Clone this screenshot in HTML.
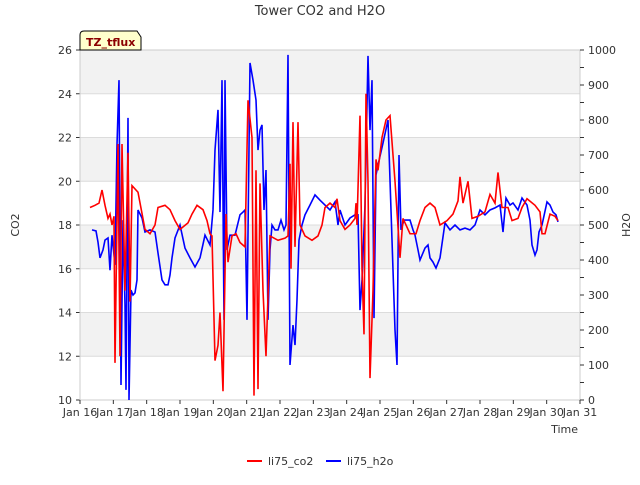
<!DOCTYPE html>
<html><head><meta charset="utf-8"><style>
body{margin:0;background:#fff;font-family:"Liberation Sans","DejaVu Sans",sans-serif}
svg text{font-family:"DejaVu Sans","Liberation Sans",sans-serif;font-size:11px;fill:#333}
</style></head><body>
<svg id="chart" width="640" height="480" xmlns="http://www.w3.org/2000/svg">
<g id="bands"></g><g id="grid"></g><g id="axes"></g><g id="series"></g>
<text x="320" y="15" text-anchor="middle" style="font-size:13px">Tower CO2 and H2O</text>
<text x="19" y="225" text-anchor="middle" transform="rotate(-90 19 225)">CO2</text>
<text x="630" y="225" text-anchor="middle" transform="rotate(-90 630 225)">H2O</text>
<text x="578" y="433" text-anchor="end">Time</text>
<g>
<path d="M80,50 L80,35 Q80,31 84,31 L137,31 L141,37 L141,50 Z" fill="#ffffcc" stroke="#000" stroke-width="1"/>
<text x="86" y="46" style="font-size:11px;font-weight:bold;fill:#8b0000">TZ_tflux</text></g>
<g>
<line x1="247" y1="461" x2="262" y2="461" stroke="#ff0000" stroke-width="2"/>
<text x="268" y="465">li75_co2</text>
<line x1="326" y1="461" x2="341" y2="461" stroke="#0000ff" stroke-width="2"/>
<text x="347" y="465">li75_h2o</text></g>
</svg>
<script>
const xTickLabels=["Jan 16","Jan 17","Jan 18","Jan 19","Jan 20","Jan 21","Jan 22","Jan 23","Jan 24","Jan 25","Jan 26","Jan 27","Jan 28","Jan 29","Jan 30","Jan 31"];
const yTicks=[10,12,14,16,18,20,22,24,26];
const y2Ticks=[0,100,200,300,400,500,600,700,800,900,1000];
const co2Days=[0.30,0.45,0.57,0.66,0.75,0.84,0.90,0.96,1.02,1.05,1.14,1.20,1.26,1.35,1.44,1.50,1.56,1.74,1.95,2.10,2.25,2.34,2.55,2.70,2.85,3.00,3.24,3.36,3.51,3.69,3.81,3.90,3.96,4.05,4.14,4.20,4.29,4.38,4.44,4.56,4.68,4.80,4.95,5.04,5.16,5.22,5.28,5.34,5.40,5.49,5.58,5.70,5.94,6.15,6.24,6.30,6.33,6.39,6.45,6.54,6.60,6.75,6.96,7.14,7.26,7.35,7.50,7.65,7.71,7.80,7.95,8.10,8.25,8.28,8.31,8.40,8.46,8.52,8.58,8.64,8.70,8.79,8.88,8.94,9.06,9.18,9.30,9.45,9.60,9.69,9.90,10.08,10.20,10.35,10.50,10.65,10.80,11.01,11.19,11.34,11.40,11.49,11.64,11.76,11.94,12.15,12.30,12.45,12.54,12.66,12.84,12.96,13.14,13.26,13.41,13.65,13.80,13.86,13.95,14.10,14.25,14.34];
const co2Values=[18.8,18.9,19.0,19.6,18.9,18.3,18.5,18.0,18.4,11.7,21.7,12.0,21.7,15.0,21.3,14.5,19.8,19.5,17.8,17.6,18.0,18.8,18.9,18.7,18.2,17.8,18.1,18.5,18.9,18.7,18.2,17.6,17.5,11.8,12.5,14,10.4,18.5,16.3,17.5,17.6,17.2,17.0,23.7,22.0,10.2,20.5,10.5,19.9,15.0,12.0,17.5,17.3,17.4,17.5,20.8,16.0,22.7,17.0,22.7,18.0,17.5,17.3,17.5,18.0,18.8,19.0,18.8,19.2,18.2,17.8,18.0,18.3,19.0,18.0,23.0,16.0,13.0,24.0,20.0,11.0,15.0,21.0,20.5,22.0,22.8,23.0,20.0,16.5,18.3,17.6,17.6,18.2,18.8,19.0,18.8,18.0,18.2,18.5,19.1,20.2,19.0,20.0,18.3,18.4,18.6,19.4,19.0,20.4,18.8,18.8,18.2,18.3,18.8,19.2,18.9,18.6,17.6,17.6,18.5,18.4,18.2];
const h2oDays=[0.36,0.48,0.54,0.60,0.69,0.75,0.84,0.90,0.96,1.05,1.11,1.17,1.23,1.29,1.35,1.38,1.44,1.47,1.53,1.59,1.65,1.71,1.74,1.86,1.95,2.10,2.25,2.34,2.46,2.55,2.64,2.70,2.76,2.85,3.00,3.15,3.30,3.45,3.60,3.75,3.90,3.99,4.05,4.14,4.20,4.26,4.32,4.35,4.41,4.50,4.65,4.80,4.89,4.95,5.01,5.10,5.19,5.28,5.34,5.40,5.46,5.52,5.58,5.64,5.70,5.76,5.85,5.94,6.03,6.12,6.18,6.24,6.30,6.39,6.45,6.51,6.57,6.66,6.75,6.90,7.05,7.20,7.35,7.50,7.65,7.74,7.80,7.95,8.10,8.25,8.34,8.40,8.46,8.55,8.64,8.70,8.76,8.82,8.88,8.94,9.09,9.24,9.36,9.45,9.51,9.57,9.63,9.72,9.90,9.99,10.05,10.14,10.20,10.35,10.44,10.50,10.59,10.68,10.80,10.95,11.10,11.25,11.40,11.55,11.70,11.85,12.00,12.15,12.30,12.45,12.60,12.69,12.78,12.90,12.99,13.14,13.26,13.41,13.50,13.56,13.65,13.71,13.77,13.86,14.01,14.10,14.19,14.28,14.34];
const h2oValues=[486,483,451,406,429,457,463,371,471,386,729,914,43,514,271,29,806,0,314,300,306,343,543,520,480,486,480,420,343,329,329,357,406,463,500,434,406,380,406,471,443,543,714,829,537,914,229,914,429,471,471,529,537,543,229,963,914,857,714,771,786,543,657,229,429,500,486,486,514,486,500,986,100,214,157,286,457,500,529,557,586,571,557,543,566,500,543,500,520,529,529,257,343,557,983,771,914,234,643,671,734,800,457,200,100,700,486,514,514,486,471,429,400,434,443,406,394,377,406,506,486,500,486,491,486,500,543,529,543,549,557,480,577,557,563,543,577,557,514,443,414,429,480,500,566,557,537,529,509];
const L=80,R=580,T=50,B=400,NS="http://www.w3.org/2000/svg";
const xs=d=>L+(R-L)*d/15, ys=v=>B-(B-T)*(v-10)/16, y2s=v=>B-(B-T)*v/1000;
function mk(tag,attrs,parent){const e=document.createElementNS(NS,tag);for(const k in attrs)e.setAttribute(k,attrs[k]);document.getElementById(parent).appendChild(e);return e;}
[12,16,20,24].forEach(v=>{const r=mk('rect',{x:L,y:ys(v+2),width:R-L,height:ys(v)-ys(v+2),fill:'#f2f2f2'},'bands');

});
yTicks.forEach(v=>{const g=mk('line',{x1:L,x2:R,y1:ys(v),y2:ys(v),stroke:'#dcdcdc','stroke-width':1},'grid');


mk('line',{x1:L-4,x2:L,y1:ys(v),y2:ys(v),stroke:'#333'},'axes');
const t=mk('text',{x:L-8,y:ys(v)+4,'text-anchor':'end'},'axes');t.textContent=v;

});
mk('rect',{x:L,y:T,width:R-L,height:B-T,fill:'none',stroke:'#cccccc'},'axes');
for(let v=0;v<=1000;v+=50){mk('line',{x1:R,x2:R+4,y1:y2s(v),y2:y2s(v),stroke:'#333'},'axes');}
y2Ticks.forEach(v=>{const t=mk('text',{x:R+8,y:y2s(v)+4},'axes');t.textContent=v;

});
xTickLabels.forEach((s,i)=>{mk('line',{x1:xs(i),x2:xs(i),y1:B,y2:B+4,stroke:'#333'},'axes');
const t=mk('text',{x:xs(i),y:B+16,'text-anchor':'middle'},'axes');t.textContent=s;

});
const h=mk('polyline',{points:h2oDays.map((d,i)=>xs(d)+','+y2s(h2oValues[i])).join(' '),fill:'none',stroke:'#0000ff','stroke-width':1.6},'series');


const c=mk('polyline',{points:co2Days.map((d,i)=>xs(d)+','+ys(co2Values[i])).join(' '),fill:'none',stroke:'#ff0000','stroke-width':1.6},'series');


</script>
</body></html>
